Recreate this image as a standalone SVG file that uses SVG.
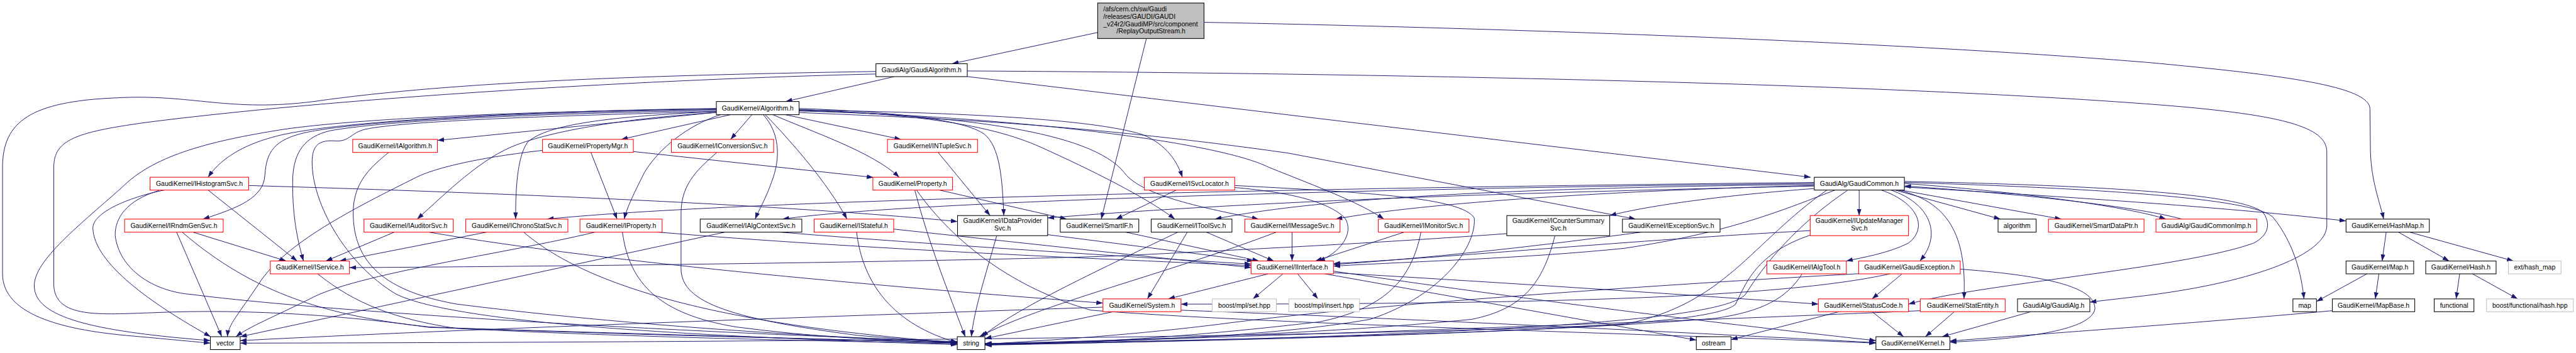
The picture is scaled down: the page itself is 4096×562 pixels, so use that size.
<svg xmlns="http://www.w3.org/2000/svg" width="4096" height="562" viewBox="0 0 4096 562">
<style>
.e{fill:none;stroke:#191970;stroke-width:1.2;marker-end:url(#a)}
rect{stroke-width:1.3}
rect.k{fill:#fff;stroke:#000}
rect.r{fill:#fff;stroke:#f00}
rect.g{fill:#fff;stroke:#bfbfbf}
rect.m{fill:#bfbfbf;stroke:#000}
text{font-family:"Liberation Sans",Arial,sans-serif;font-size:13px;fill:#000;text-anchor:middle}
text.l{text-anchor:start}
</style>
<defs>
<marker id="a" markerUnits="userSpaceOnUse" markerWidth="14" markerHeight="10" viewBox="0 0 14 10" refX="13" refY="5" orient="auto"><path d="M0,0.5 L13,5 L0,9.5 z" fill="#191970"/></marker>
</defs>
<rect x="0" y="0" width="4096" height="562" fill="#fff"/>
<g transform="scale(0.80693)">
<g id="connectors">
<path class="e" d="M2163,64 L1876,125.7"/>
<path class="e" d="M2259,76 L2170,432.3"/>
<path class="e" d="M2372.5,44 C2900,54 3700,80 4230,123 C4500,148 4670,170 4670,215 L4671,300 C4673,360 4690,400 4697,432.3"/>
<path class="e" d="M1762,151.2 L1548,200.3"/>
<path class="e" d="M1906,151 L3568,349.7"/>
<path class="e" d="M1906,140 C2500,143 3600,158 4230,205 C4500,225 4585,250 4585,300 L4585,445 C4585,500 4450,555 4230,583 L4118,596"/>
<path class="e" d="M1726,141 C1300,148 900,160 620,200 C450,222 380,185 230,193 C60,200 5,240 5,330 L5,540 C5,620 120,650 250,662 C330,669 380,674 414.5,677"/>
<path class="e" d="M1726,146 C1300,156 700,190 300,240 C150,260 106,275 106,330 L106,560 C106,630 200,620 300,617 C500,608 700,625 846,646 L1886.3,677"/>
<path class="e" d="M1411.6,221.7 L862,277"/>
<path class="e" d="M1439.6,226.3 L1224,275"/>
<path class="e" d="M1481.7,226.3 L1439.6,275"/>
<path class="e" d="M1547.6,226.3 L1775.6,275"/>
<path class="e" d="M1411.6,214 C1100,218 700,235 560,265 C470,285 430,320 410,349.7"/>
<path class="e" d="M1411.6,216 C1000,222 700,240 600,262 C540,276 525,300 522,345 C520,390 470,410 400,432.3"/>
<path class="e" d="M1411.6,218 C1000,225 750,240 650,258 C600,270 580,300 577,348 C575,420 585,470 598,515"/>
<path class="e" d="M1411.6,222 C1250,232 1100,255 1020,285 C950,310 880,380 822,432.3"/>
<path class="e" d="M1411.6,220 C1200,230 1080,245 1040,280 C1018,310 1016,380 1016,432.3"/>
<path class="e" d="M1420,226.3 C1360,245 1300,290 1270,340 C1250,380 1235,410 1230,432.3"/>
<path class="e" d="M1504,226.3 C1535,260 1540,310 1520,360 C1510,390 1495,415 1488,432.3"/>
<path class="e" d="M1508,226.3 C1560,280 1630,360 1669,432.3"/>
<path class="e" d="M1523,226.3 C1600,260 1720,300 1772,349.7"/>
<path class="e" d="M1574.6,214 C1750,220 1900,235 1940,265 C1970,290 1975,350 1978,425.3"/>
<path class="e" d="M1574.6,216 C1800,225 1950,245 2050,290 C2150,335 2260,390 2315,432.3"/>
<path class="e" d="M1574.6,217 C1900,222 2150,235 2250,265 C2300,285 2320,320 2330,349.7"/>
<path class="e" d="M1574.6,218 C1900,228 2150,260 2215,340 C2250,390 2400,415 2480,432.3"/>
<path class="e" d="M1574.6,219 C2000,230 2400,280 2500,330 C2600,370 2680,400 2727,432.3"/>
<path class="e" d="M1574.6,222 C1800,232 2100,240 2538,302 L3223,432.3"/>
<path class="e" d="M1411.6,215 C1000,220 700,235 560,255 C400,280 300,310 240,370 C150,450 60,520 68,570 C75,630 200,655 414.5,672"/>
<path class="e" d="M1411.6,220 C1100,228 800,238 720,255 C690,262 690,280 660,278 C630,276 615,285 615,320 C615,400 680,520 780,580 C900,640 1400,665 1886.3,680"/>
<path class="e" d="M1164.4,300.7 L1216,432.3"/>
<path class="e" d="M1248,299 L1721,350"/>
<path class="e" d="M1069,296.7 C950,310 860,330 820,350 C700,410 560,480 510,560 C470,620 450,640 448,664.3"/>
<path class="e" d="M1412.6,300.7 C1380,330 1342,360 1342,420 L1342,530 C1342,600 1450,630 1692,662 L1886.3,677"/>
<path class="e" d="M1848.5,300.7 L1951,425.3"/>
<path class="e" d="M766,300.7 C730,330 696,360 696,420 C696,520 760,575 900,600 C1300,650 1700,668 1886.3,675"/>
<path class="e" d="M490,366 C900,378 1500,400 1886.8,437"/>
<path class="e" d="M410,375 L585.5,515"/>
<path class="e" d="M324,375 C250,390 183,420 183,450 C185,520 300,600 415,664.3"/>
<path class="e" d="M313,376 C250,395 226,430 227,465 C235,530 300,575 378,581 C600,610 1200,650 1886.3,674"/>
<path class="e" d="M348,458 L437,664.3"/>
<path class="e" d="M359,458 C500,580 650,625 846,645 C1200,660 1600,668 1886.3,676"/>
<path class="e" d="M380,458 L564,515"/>
<path class="e" d="M777,458 L642,515"/>
<path class="e" d="M845,458 C1200,520 1800,570 2173.4,598"/>
<path class="e" d="M959,458 L669,515"/>
<path class="e" d="M1032,458 C1150,560 1400,640 1886.3,676"/>
<path class="e" d="M1172.5,458 C1000,500 700,540 610,590 C540,625 490,645 465,664.3"/>
<path class="e" d="M1226.5,458 C1240,560 1300,620 1450,645 C1600,665 1750,672 1886.3,677"/>
<path class="e" d="M1296.6,458 C1700,492 2200,512 2465.3,524"/>
<path class="e" d="M1428.8,458 L473.3,664.3"/>
<path class="e" d="M1536.8,458 C1800,480 2200,505 2465.3,521"/>
<path class="e" d="M1761,452 L2465.3,528"/>
<path class="e" d="M1688,458 C1700,560 1760,640 1886.3,676"/>
<path class="e" d="M2969.2,461 C2700,480 2538,488 2200,505 C1900,515 1200,525 688.6,528"/>
<path class="e" d="M3064,465 C3040,560 3000,610 2900,630 C2600,660 2200,672 1940.8,678"/>
<path class="e" d="M626,540.3 C700,600 780,630 900,648 C1300,668 1700,674 1886.3,678"/>
<path class="e" d="M2218,458 L2481,515"/>
<path class="e" d="M2377,458 L2510,515"/>
<path class="e" d="M2321,458 C2150,540 2000,610 1935,664.3"/>
<path class="e" d="M2339.6,458 L2261,589.7"/>
<path class="e" d="M2546,458 L2546,515"/>
<path class="e" d="M2515,458 C2300,540 2050,600 1930,664.3"/>
<path class="e" d="M2767,458 L2592,515"/>
<path class="e" d="M2800,458 C2780,560 2720,610 2600,635 C2300,670 2100,678 1940.8,680"/>
<path class="e" d="M2433,370 C2550,380 2620,400 2650,430 C2670,460 2640,500 2598,515"/>
<path class="e" d="M2433,366 C2700,380 2880,390 2905,430 C2910,480 2850,580 2700,630 C2500,665 2200,675 1940.8,678"/>
<path class="e" d="M2318,375 L2199,432.3"/>
<path class="e" d="M1964,465 C1940,550 1920,610 1914,664.3"/>
<path class="e" d="M2064.4,463 L2470,515"/>
<path class="e" d="M3575,367 C3000,380 2500,395 2064.4,430"/>
<path class="e" d="M1802.6,375 C1830,480 1870,580 1902,664.3"/>
<path class="e" d="M1806,375 C1880,480 2000,570 2150,612 C2500,640 3300,660 3696.5,677"/>
<path class="e" d="M1851,375 L2102,432.3"/>
<path class="e" d="M2499,540.3 L2302,589.7"/>
<path class="e" d="M2528,540.3 L2469,589.7"/>
<path class="e" d="M2557,540.3 L2597,589.7"/>
<path class="e" d="M2611,540.3 L3342.6,671"/>
<path class="e" d="M2627.6,535 C3000,590 3400,640 3696.5,672"/>
<path class="e" d="M2627.6,538 C3000,560 3300,580 3583.1,600"/>
<path class="e" d="M2194,615 L1940.8,668"/>
<path class="e" d="M2173.4,606 C1600,625 900,650 473.3,672"/>
<path class="e" d="M2327.2,612 C2800,630 3300,655 3696.5,676"/>
<path class="e" d="M3689,615 L3751,664.3"/>
<path class="e" d="M3624,615 L3411,670"/>
<path class="e" d="M3851,615 L3794,664.3"/>
<path class="e" d="M3783.9,613 C3400,630 2600,660 1940.8,680"/>
<path class="e" d="M4002,615 L3827,664.3"/>
<path class="e" d="M3862.7,531 C4050,545 4130,570 4128,610 C4120,650 4000,668 3842.2,675"/>
<path class="e" d="M3748,540.3 L3689,589.7"/>
<path class="e" d="M3724,540.3 C3500,590 3000,600 2327.2,600"/>
<path class="e" d="M3662.5,540 C3300,560 2700,600 2400,640 C2200,665 2000,675 1940.8,679"/>
<path class="e" d="M3551,540.3 C3520,590 3470,615 3380,628 C3000,660 2300,675 1940.8,680"/>
<path class="e" d="M3567,455 C3200,475 2900,505 2627.6,520"/>
<path class="e" d="M3567,464 C3460,500 3440,560 3420,600 C3380,640 3000,660 1940.8,679"/>
<path class="e" d="M3234,458 C3000,490 2800,510 2627.6,522"/>
<path class="e" d="M3663.5,375 L3663.5,425.3"/>
<path class="e" d="M3734,375 L3942,432.3"/>
<path class="e" d="M3745,375 L4062,432.3"/>
<path class="e" d="M3752.6,362 C4000,380 4200,410 4268,432.3"/>
<path class="e" d="M4300,432.3 C4200,405 3950,380 3752.6,367"/>
<path class="e" d="M3752.6,369 C4100,390 4400,410 4623,436"/>
<path class="e" d="M3752.6,360 C4100,370 4450,390 4480,430 C4520,480 4535,540 4540,589.7"/>
<path class="e" d="M3752.6,358 C4100,365 4420,380 4460,420 C4480,450 4460,470 4440,480 C4300,530 3900,560 3760.7,600"/>
<path class="e" d="M3707,375 C3780,400 3800,450 3760,480 C3720,500 3670,508 3638,515"/>
<path class="e" d="M3726,375 C3800,400 3830,460 3783,515"/>
<path class="e" d="M3740,375 C3850,400 3875,480 3870,589.7"/>
<path class="e" d="M3575,366 C3200,375 2800,400 2632,432.3"/>
<path class="e" d="M3575,372 C3400,385 3250,405 3172,425.3"/>
<path class="e" d="M3575,364 C3000,370 2600,390 2394,432.3"/>
<path class="e" d="M3575,362 C2800,370 1800,395 1542,432.3"/>
<path class="e" d="M3575,360 C2800,368 1500,390 1078,432.3"/>
<path class="e" d="M3616,375 C3500,420 3400,460 3200,490 C3000,510 2800,515 2627.6,525"/>
<path class="e" d="M3640,376 C3560,430 3490,500 3440,580 C3400,630 3000,660 1940.8,681"/>
<path class="e" d="M3600,375 C3450,480 3400,600 3200,640 C2500,672 1000,676 473.3,677"/>
<path class="e" d="M4702,458 L4694,515"/>
<path class="e" d="M4726,458 L4826,515"/>
<path class="e" d="M4748,458 L4953,515"/>
<path class="e" d="M4664,540.3 L4564.6,595"/>
<path class="e" d="M4687.6,540.3 L4680.6,589.7"/>
<path class="e" d="M4846.8,540.3 L4839.8,589.7"/>
<path class="e" d="M4872,540.3 L4961,589.7"/>
<path class="e" d="M4596,613 C4300,640 4000,660 3842.2,673"/>
</g>
<g id="n_main"><rect class="m" x="2163" y="6" width="209.5" height="70"/><text class="l" x="2174" y="22.5">/afs/cern.ch/sw/Gaudi</text><text class="l" x="2174" y="37">/releases/GAUDI/GAUDI</text><text class="l" x="2174" y="51.5">_v24r2/GaudiMP/src/component</text><text x="2268" y="66">/ReplayOutputStream.h</text></g>
<g id="n_gaudialgorithm"><rect class="k" x="1726" y="125.7" width="180" height="25.5"/><text x="1816" y="143">GaudiAlg/GaudiAlgorithm.h</text></g>
<g id="n_algorithm"><rect class="k" x="1411.6" y="200.3" width="163" height="26"/><text x="1493.1" y="217.8">GaudiKernel/Algorithm.h</text></g>
<g id="n_ialgorithm"><rect class="r" x="695" y="275" width="167" height="25.7"/><text x="778.5" y="292.4">GaudiKernel/IAlgorithm.h</text></g>
<g id="n_propertymgr"><rect class="r" x="1069" y="275" width="179" height="25.7"/><text x="1158.5" y="292.4">GaudiKernel/PropertyMgr.h</text></g>
<g id="n_iconversionsvc"><rect class="r" x="1323" y="275" width="201.4" height="25.7"/><text x="1423.7" y="292.4">GaudiKernel/IConversionSvc.h</text></g>
<g id="n_intuplesvc"><rect class="r" x="1748.7" y="275" width="177.5" height="25.7"/><text x="1837.45" y="292.4">GaudiKernel/INTupleSvc.h</text></g>
<g id="n_ihistogramsvc"><rect class="r" x="295.7" y="349.7" width="194.3" height="25.3"/><text x="392.85" y="366.9">GaudiKernel/IHistogramSvc.h</text></g>
<g id="n_property"><rect class="r" x="1720" y="349.7" width="157" height="25.3"/><text x="1798.5" y="366.9">GaudiKernel/Property.h</text></g>
<g id="n_isvclocator"><rect class="r" x="2255" y="349.7" width="178" height="25.3"/><text x="2344" y="366.9">GaudiKernel/ISvcLocator.h</text></g>
<g id="n_gaudicommon"><rect class="k" x="3575" y="349.7" width="177.6" height="25.3"/><text x="3663.8" y="366.9">GaudiAlg/GaudiCommon.h</text></g>
<g id="n_irndmgensvc"><rect class="r" x="245.5" y="432.3" width="194.3" height="25.7"/><text x="342.65" y="449.7">GaudiKernel/IRndmGenSvc.h</text></g>
<g id="n_iauditorsvc"><rect class="r" x="717.2" y="432.3" width="175.8" height="25.7"/><text x="805.1" y="449.7">GaudiKernel/IAuditorSvc.h</text></g>
<g id="n_ichronostatsvc"><rect class="r" x="917.8" y="432.3" width="201.2" height="25.7"/><text x="1018.4" y="449.7">GaudiKernel/IChronoStatSvc.h</text></g>
<g id="n_iproperty"><rect class="r" x="1142.8" y="432.3" width="161.9" height="25.7"/><text x="1223.75" y="449.7">GaudiKernel/IProperty.h</text></g>
<g id="n_ialgcontextsvc"><rect class="k" x="1379.7" y="432.3" width="200.3" height="25.7"/><text x="1479.85" y="449.7">GaudiKernel/IAlgContextSvc.h</text></g>
<g id="n_istateful"><rect class="r" x="1604.2" y="432.3" width="156.8" height="25.7"/><text x="1682.6" y="449.7">GaudiKernel/IStateful.h</text></g>
<g id="n_idataprovidersvc"><rect class="k" x="1886.8" y="425.3" width="177.6" height="39.7"/><text x="1975.6" y="440.5">GaudiKernel/IDataProvider</text><text x="1975.6" y="455">Svc.h</text></g>
<g id="n_smartif"><rect class="k" x="2089.2" y="432.3" width="154.8" height="25.7"/><text x="2166.6" y="449.7">GaudiKernel/SmartIF.h</text></g>
<g id="n_itoolsvc"><rect class="k" x="2268.4" y="432.3" width="159.2" height="25.7"/><text x="2348" y="449.7">GaudiKernel/IToolSvc.h</text></g>
<g id="n_imessagesvc"><rect class="r" x="2453" y="432.3" width="187.5" height="25.7"/><text x="2546.75" y="449.7">GaudiKernel/IMessageSvc.h</text></g>
<g id="n_imonitorsvc"><rect class="r" x="2716" y="432.3" width="178.7" height="25.7"/><text x="2805.35" y="449.7">GaudiKernel/IMonitorSvc.h</text></g>
<g id="n_icountersummarysvc"><rect class="k" x="2969.2" y="425.3" width="202.8" height="39.7"/><text x="3070.6" y="440.5">GaudiKernel/ICounterSummary</text><text x="3070.6" y="455">Svc.h</text></g>
<g id="n_iexceptionsvc"><rect class="k" x="3197" y="432.3" width="192.4" height="25.7"/><text x="3293.2" y="449.7">GaudiKernel/IExceptionSvc.h</text></g>
<g id="n_iupdatemanagersvc"><rect class="r" x="3567" y="425.3" width="193.7" height="39.7"/><text x="3663.85" y="440.5">GaudiKernel/IUpdateManager</text><text x="3663.85" y="455">Svc.h</text></g>
<g id="n_algorithm_std"><rect class="k" x="3937.2" y="432.3" width="75" height="25.7"/><text x="3974.7" y="449.7">algorithm</text></g>
<g id="n_smartdataptr"><rect class="r" x="4036.5" y="432.3" width="188.3" height="25.7"/><text x="4130.65" y="449.7">GaudiKernel/SmartDataPtr.h</text></g>
<g id="n_gaudicommonimp"><rect class="r" x="4248.3" y="432.3" width="198.7" height="25.7"/><text x="4347.65" y="449.7">GaudiAlg/GaudiCommonImp.h</text></g>
<g id="n_hashmap"><rect class="k" x="4622.9" y="432.3" width="164.1" height="25.7"/><text x="4704.95" y="449.7">GaudiKernel/HashMap.h</text></g>
<g id="n_iservice"><rect class="r" x="532.6" y="515" width="156" height="25.3"/><text x="610.6" y="532.2">GaudiKernel/IService.h</text></g>
<g id="n_iinterface"><rect class="r" x="2465.3" y="515" width="162.3" height="25.3"/><text x="2546.45" y="532.2">GaudiKernel/IInterface.h</text></g>
<g id="n_ialgtool"><rect class="r" x="3481.7" y="515" width="156.5" height="25.3"/><text x="3559.95" y="532.2">GaudiKernel/IAlgTool.h</text></g>
<g id="n_gaudiexception"><rect class="r" x="3662.5" y="515" width="200.2" height="25.3"/><text x="3762.6" y="532.2">GaudiKernel/GaudiException.h</text></g>
<g id="n_map_h"><rect class="k" x="4622.9" y="515" width="133.3" height="25.3"/><text x="4689.55" y="532.2">GaudiKernel/Map.h</text></g>
<g id="n_hash_h"><rect class="k" x="4779.9" y="515" width="138.7" height="25.3"/><text x="4849.25" y="532.2">GaudiKernel/Hash.h</text></g>
<g id="n_ext_hash_map"><rect class="g" x="4942.9" y="515" width="103.6" height="25.3"/><text x="4994.7" y="532.2">ext/hash_map</text></g>
<g id="n_system"><rect class="r" x="2173.4" y="589.7" width="153.8" height="25.3"/><text x="2250.3" y="606.9">GaudiKernel/System.h</text></g>
<g id="n_mpl_set"><rect class="g" x="2388.7" y="589.7" width="126.3" height="25.3"/><text x="2451.85" y="606.9">boost/mpl/set.hpp</text></g>
<g id="n_mpl_insert"><rect class="g" x="2539.6" y="589.7" width="139.3" height="25.3"/><text x="2609.25" y="606.9">boost/mpl/insert.hpp</text></g>
<g id="n_statuscode"><rect class="r" x="3583.1" y="589.7" width="177.6" height="25.3"/><text x="3671.9" y="606.9">GaudiKernel/StatusCode.h</text></g>
<g id="n_statentity"><rect class="r" x="3783.9" y="589.7" width="167.3" height="25.3"/><text x="3867.55" y="606.9">GaudiKernel/StatEntity.h</text></g>
<g id="n_gaudialg"><rect class="k" x="3975.5" y="589.7" width="142.5" height="25.3"/><text x="4046.75" y="606.9">GaudiAlg/GaudiAlg.h</text></g>
<g id="n_map"><rect class="k" x="4518.2" y="589.7" width="46.4" height="25.3"/><text x="4541.4" y="606.9">map</text></g>
<g id="n_mapbase"><rect class="k" x="4595.9" y="589.7" width="162.4" height="25.3"/><text x="4677.1" y="606.9">GaudiKernel/MapBase.h</text></g>
<g id="n_functional"><rect class="k" x="4796.6" y="589.7" width="78.3" height="25.3"/><text x="4835.75" y="606.9">functional</text></g>
<g id="n_boost_hash"><rect class="g" x="4899.7" y="589.7" width="171.1" height="25.3"/><text x="4985.25" y="606.9">boost/functional/hash.hpp</text></g>
<g id="n_vector"><rect class="k" x="414.5" y="664.3" width="58.8" height="25.4"/><text x="443.9" y="681.5">vector</text></g>
<g id="n_string"><rect class="k" x="1886.3" y="664.3" width="54.5" height="25.4"/><text x="1913.55" y="681.5">string</text></g>
<g id="n_ostream"><rect class="k" x="3342.6" y="664.3" width="68.4" height="25.4"/><text x="3376.8" y="681.5">ostream</text></g>
<g id="n_kernel"><rect class="k" x="3696.5" y="664.3" width="145.7" height="25.4"/><text x="3769.35" y="681.5">GaudiKernel/Kernel.h</text></g>
</g>
</svg>
